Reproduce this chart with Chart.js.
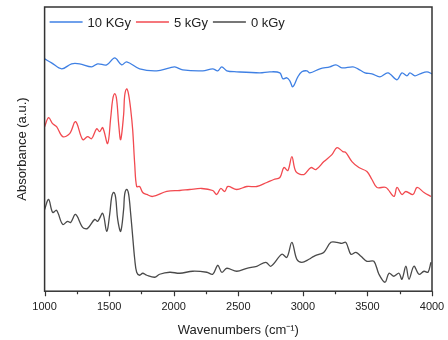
<!DOCTYPE html>
<html>
<head>
<meta charset="utf-8">
<script src="https://cdn.jsdelivr.net/npm/chart.js@4"></script>
<style>
  html, body { margin: 0; padding: 0; background: #fff; }
  #wrap { width: 448px; height: 340px; position: relative; }
</style>
</head>
<body>
<div id="wrap"><canvas id="ftir"></canvas></div>
<script>
// wavenumber (cm-1) / absorbance (a.u.) pairs
const wn10 = [1000, 1054, 1132, 1209, 1271, 1364, 1411, 1481, 1543, 1597, 1636, 1736, 1868, 1969, 2008, 2070, 2225, 2302, 2341, 2372, 2411, 2488, 2667, 2744, 2822, 2845, 2876, 2899, 2922, 2961, 2992, 3031, 3054, 3132, 3209, 3256, 3302, 3388, 3426, 3481, 3535, 3597, 3659, 3729, 3767, 3806, 3829, 3868, 3907, 3961, 4000];
const abs10 = [2.33, 2.29, 2.23, 2.28, 2.28, 2.25, 2.28, 2.27, 2.34, 2.27, 2.30, 2.23, 2.21, 2.24, 2.25, 2.22, 2.21, 2.23, 2.21, 2.25, 2.21, 2.20, 2.19, 2.20, 2.19, 2.13, 2.14, 2.11, 2.05, 2.15, 2.20, 2.21, 2.19, 2.23, 2.25, 2.27, 2.24, 2.25, 2.23, 2.19, 2.18, 2.15, 2.19, 2.12, 2.19, 2.16, 2.19, 2.16, 2.18, 2.20, 2.18];

const wn5 = [1000, 1031, 1062, 1093, 1140, 1194, 1240, 1295, 1333, 1364, 1403, 1426, 1450, 1488, 1512, 1527, 1543, 1558, 1574, 1589, 1612, 1620, 1636, 1651, 1667, 1682, 1698, 1713, 1736, 1760, 1791, 1837, 1946, 2047, 2124, 2217, 2302, 2333, 2364, 2395, 2419, 2488, 2566, 2643, 2721, 2775, 2822, 2853, 2884, 2915, 2946, 3008, 3062, 3101, 3163, 3225, 3264, 3310, 3333, 3380, 3434, 3496, 3535, 3574, 3643, 3705, 3729, 3767, 3798, 3853, 3884, 3938, 3992];
const abs5 = [1.65, 1.74, 1.68, 1.65, 1.55, 1.58, 1.70, 1.52, 1.55, 1.53, 1.63, 1.60, 1.64, 1.48, 1.74, 1.92, 1.98, 1.92, 1.67, 1.52, 1.77, 1.96, 2.03, 1.97, 1.82, 1.62, 1.27, 1.05, 1.05, 0.99, 0.97, 0.95, 1.00, 1.01, 1.02, 1.03, 1.01, 0.97, 1.03, 1.00, 1.05, 1.02, 1.05, 1.05, 1.09, 1.12, 1.14, 1.24, 1.21, 1.35, 1.20, 1.17, 1.24, 1.22, 1.30, 1.37, 1.44, 1.40, 1.39, 1.30, 1.24, 1.20, 1.12, 1.04, 1.04, 0.95, 1.04, 0.97, 1.00, 0.97, 1.04, 0.99, 0.95];

const wn0 = [1000, 1031, 1062, 1093, 1140, 1178, 1202, 1240, 1295, 1333, 1388, 1411, 1450, 1481, 1504, 1519, 1535, 1550, 1566, 1589, 1612, 1620, 1636, 1651, 1667, 1682, 1698, 1713, 1736, 1760, 1791, 1853, 1891, 1969, 2047, 2147, 2256, 2302, 2341, 2372, 2411, 2488, 2566, 2643, 2713, 2752, 2837, 2876, 2915, 2953, 2992, 3047, 3085, 3124, 3163, 3217, 3264, 3302, 3333, 3372, 3411, 3450, 3496, 3550, 3589, 3636, 3667, 3705, 3744, 3767, 3798, 3822, 3860, 3899, 3938, 3969, 3992];
const abs0 = [0.82, 0.92, 0.79, 0.81, 0.67, 0.70, 0.69, 0.77, 0.64, 0.63, 0.72, 0.70, 0.78, 0.60, 0.77, 0.94, 0.99, 0.94, 0.72, 0.60, 0.82, 0.97, 1.02, 0.97, 0.77, 0.55, 0.32, 0.19, 0.16, 0.18, 0.16, 0.14, 0.17, 0.19, 0.18, 0.20, 0.19, 0.17, 0.26, 0.19, 0.23, 0.20, 0.23, 0.25, 0.29, 0.25, 0.37, 0.34, 0.49, 0.32, 0.29, 0.32, 0.35, 0.37, 0.39, 0.49, 0.49, 0.48, 0.49, 0.37, 0.39, 0.35, 0.30, 0.30, 0.17, 0.09, 0.18, 0.15, 0.18, 0.12, 0.25, 0.12, 0.25, 0.17, 0.20, 0.19, 0.29];

const seriesNames = ['10 KGy', '5 kGy', '0 kGy'];
const xTicks = [1000, 1500, 2000, 2500, 3000, 3500, 4000];
const xMinor = [1250, 1750, 2250, 2750, 3250, 3750];

const FONT = '"Liberation Sans", Arial, sans-serif';
const INK = '#222';

function pts(xs, ys) {
    return xs.map((x, i) => ({ x, y: ys[i] }));
}

function line(label, xs, ys, color) {
    return {
        label,
        data: pts(xs, ys),
        borderColor: color,
        backgroundColor: color,
        borderWidth: 1.3,
        pointRadius: 0,
        tension: 0.35,
        fill: false
    };
}

// frame, outward tick marks and the in-plot legend
const frameAndLegend = {
    id: 'frameAndLegend',
    afterDraw(chart) {
        const { ctx, chartArea: a } = chart;
        const xs = chart.scales.x;
        ctx.save();
        ctx.strokeStyle = '#333';
        ctx.lineWidth = 1.5;
        ctx.strokeRect(a.left, a.top, a.right - a.left, a.bottom - a.top);

        ctx.lineWidth = 1.2;
        ctx.beginPath();
        xTicks.forEach(v => {
            const px = Math.round(xs.getPixelForValue(v)) + 0.5;
            ctx.moveTo(px, a.bottom); ctx.lineTo(px, a.bottom + 5);
        });
        xMinor.forEach(v => {
            const px = Math.round(xs.getPixelForValue(v)) + 0.5;
            ctx.moveTo(px, a.bottom); ctx.lineTo(px, a.bottom + 3);
        });
        ctx.stroke();

        ctx.font = '13px ' + FONT;
        ctx.textBaseline = 'middle';
        let x = a.left + 5;
        const y = a.top + 15;
        chart.data.datasets.forEach(ds => {
            ctx.strokeStyle = ds.borderColor;
            ctx.lineWidth = 1.3;
            ctx.beginPath();
            ctx.moveTo(x, y); ctx.lineTo(x + 33, y);
            ctx.stroke();
            x += 38;
            ctx.fillStyle = INK;
            ctx.fillText(ds.label, x, y + 1);
            x += ctx.measureText(ds.label).width + 5;
        });
        ctx.restore();
    }
};

new Chart(document.getElementById('ftir'), {
    type: 'line',
    data: {
        datasets: [
            line(seriesNames[0], wn10, abs10, '#3f80e4'),
            line(seriesNames[1], wn5, abs5, '#f24a50'),
            line(seriesNames[2], wn0, abs0, '#4a4a4a')
        ]
    },
    options: {
        responsive: true,
        maintainAspectRatio: false,
        animation: false,
        layout: { padding: { left: 15, right: 16, top: 7, bottom: 1 } },
        plugins: { legend: { display: false }, tooltip: { enabled: false } },
        scales: {
            x: {
                type: 'linear', min: 1000, max: 4000,
                afterBuildTicks: (s) => { s.ticks = xTicks.map(v => ({ value: v })); },
                afterFit: (s) => { s.paddingLeft = 0; s.paddingRight = 0; },
                ticks: { font: { size: 11, family: FONT }, color: INK, padding: 9, maxRotation: 0, callback: (v) => String(v) },
                grid: { display: false, drawTicks: false },
                border: { display: false },
                title: { display: true, text: 'Wavenumbers (cm\u207B\u00B9)', font: { size: 13, family: FONT }, color: INK, padding: { top: 0, bottom: 1 } }
            },
            y: {
                min: 0, max: 2.85,
                ticks: { display: false },
                grid: { display: false, drawTicks: false },
                border: { display: false },
                title: { display: true, text: 'Absorbance (a.u.)', font: { size: 13, family: FONT }, color: INK, padding: { top: 0, bottom: 14 } }
            }
        }
    },
    plugins: [frameAndLegend]
});
</script>
</body>
</html>
